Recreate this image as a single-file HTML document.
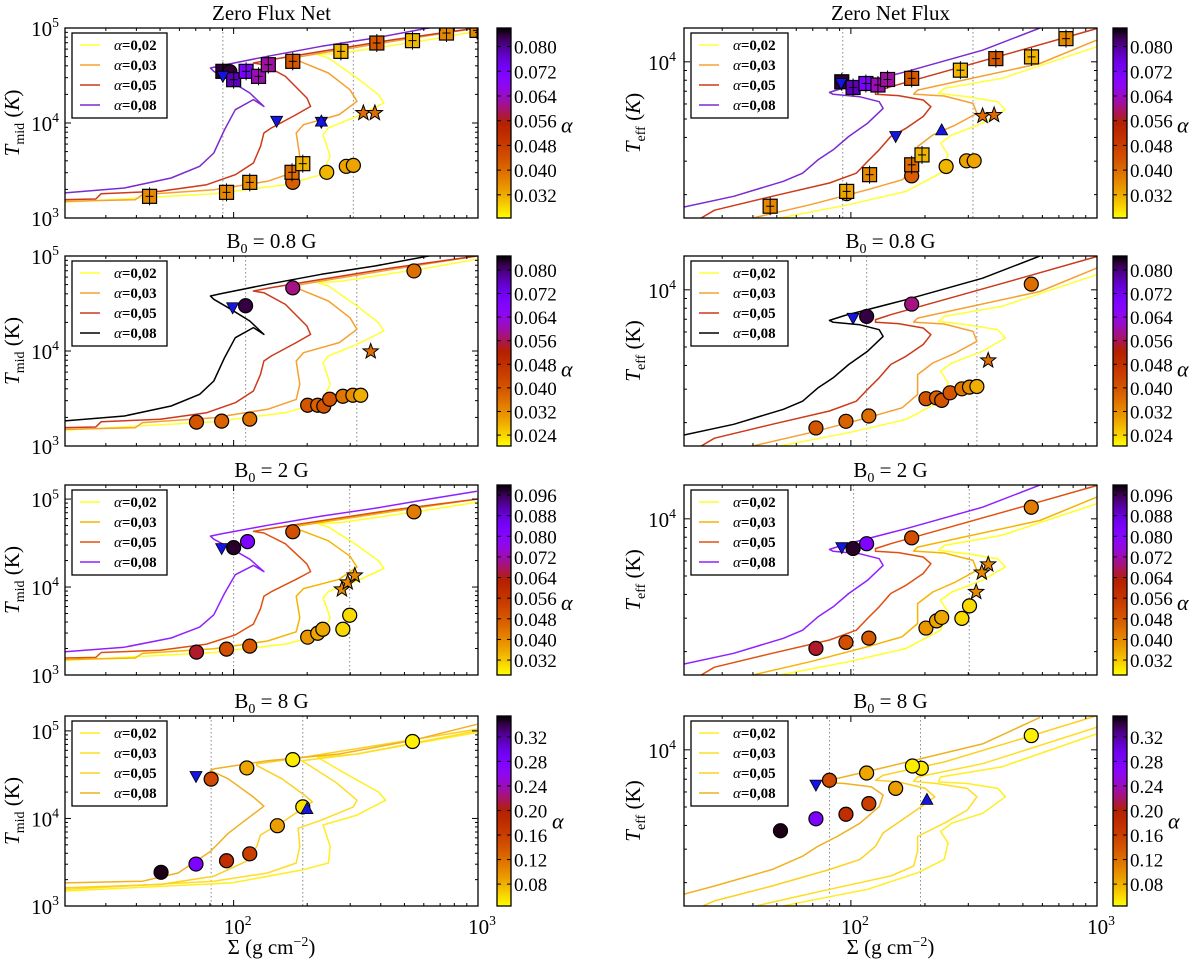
<!DOCTYPE html>
<html><head><meta charset="utf-8"><style>
html,body{margin:0;padding:0;background:#fff;}
svg{display:block;font-family:"Liberation Serif",serif;}
</style></head><body>
<svg id="fig" width="1200" height="963" viewBox="0 0 1200 963" xmlns="http://www.w3.org/2000/svg"></svg>
<script>
// ---------- Curve data: [log10 Sigma, log10 T] ----------
const LA_08=[[1.305,3.263],[1.553,3.316],[1.744,3.421],[1.861,3.544],[1.919,3.684],[1.963,3.930],[2.007,4.140],[2.081,4.246],[2.124,4.175],[2.066,4.316],[1.978,4.456],[1.919,4.544],[1.905,4.579],[1.949,4.604],[2.139,4.702],[2.359,4.807],[2.578,4.895],[2.798,5.0],[2.996,5.09]];
const LA_05=[[1.305,3.193],[1.436,3.200],[1.458,3.256],[1.700,3.281],[1.890,3.351],[2.007,3.456],[2.081,3.579],[2.110,3.754],[2.124,3.895],[2.154,3.947],[2.256,4.088],[2.315,4.175],[2.300,4.263],[2.212,4.491],[2.124,4.614],[2.081,4.632],[2.154,4.667],[2.359,4.754],[2.652,4.877],[2.996,5.0]];
const LA_03=[[1.305,3.175],[1.597,3.193],[1.627,3.246],[1.919,3.298],[2.139,3.386],[2.256,3.491],[2.271,3.649],[2.256,3.895],[2.286,3.982],[2.432,4.088],[2.505,4.228],[2.476,4.351],[2.388,4.526],[2.271,4.649],[2.242,4.684],[2.359,4.737],[2.652,4.860],[2.996,5.0]];
const LA_02=[[1.305,3.165],[1.919,3.256],[2.212,3.351],[2.359,3.456],[2.395,3.649],[2.366,3.877],[2.388,3.947],[2.505,4.070],[2.615,4.211],[2.593,4.298],[2.505,4.474],[2.388,4.684],[2.344,4.719],[2.447,4.737],[2.798,4.877],[2.996,4.965]];
const LB_08=[[1.305,3.264],[1.627,3.283],[1.773,3.377],[1.905,3.623],[1.978,3.830],[2.066,4.019],[2.124,4.140],[2.081,4.245],[1.978,4.453],[1.905,4.547],[1.919,4.566],[2.139,4.660],[2.432,4.736],[2.725,4.887],[2.996,5.075]];
const LB_05=[[1.305,3.208],[1.700,3.245],[1.919,3.340],[2.051,3.509],[2.095,3.679],[2.110,3.811],[2.212,3.981],[2.322,4.189],[2.300,4.245],[2.198,4.453],[2.095,4.604],[2.095,4.623],[2.285,4.698],[2.578,4.830],[2.996,5.019]];
const LB_03=[[1.305,3.189],[1.919,3.283],[2.139,3.377],[2.256,3.491],[2.271,3.679],[2.264,3.887],[2.359,3.981],[2.490,4.132],[2.505,4.208],[2.417,4.415],[2.300,4.623],[2.278,4.660],[2.505,4.736],[2.996,5.0]];
const LB_02=[[1.305,3.170],[1.993,3.264],[2.285,3.415],[2.388,3.491],[2.395,3.679],[2.366,3.925],[2.505,4.038],[2.622,4.208],[2.593,4.302],[2.447,4.528],[2.344,4.698],[2.505,4.736],[2.996,4.981]];
const RA_08=[[1.322,3.236],[1.524,3.292],[1.726,3.371],[1.804,3.414],[1.866,3.484],[1.928,3.537],[1.991,3.607],[2.068,3.677],[2.131,3.755],[2.115,3.790],[2.037,3.816],[1.928,3.829],[1.913,3.839],[1.975,3.865],[2.224,3.948],[2.535,4.061],[2.768,4.178]];
const RA_05=[[1.392,3.178],[1.446,3.219],[1.680,3.292],[1.913,3.362],[2.022,3.414],[2.068,3.476],[2.115,3.537],[2.162,3.607],[2.224,3.650],[2.294,3.712],[2.325,3.764],[2.294,3.799],[2.193,3.822],[2.100,3.829],[2.100,3.843],[2.162,3.869],[2.379,3.948],[2.690,4.061],[2.998,4.175]];
const RA_03=[[1.602,3.178],[1.835,3.248],[2.068,3.327],[2.208,3.379],[2.271,3.449],[2.271,3.554],[2.333,3.615],[2.426,3.668],[2.512,3.729],[2.496,3.781],[2.379,3.820],[2.255,3.830],[2.271,3.851],[2.457,3.904],[2.768,3.991],[2.998,4.114]];
const RA_02=[[1.711,3.178],[1.991,3.248],[2.224,3.318],[2.364,3.414],[2.395,3.510],[2.364,3.572],[2.410,3.615],[2.535,3.677],[2.628,3.747],[2.597,3.790],[2.473,3.816],[2.356,3.834],[2.379,3.860],[2.613,3.913],[2.998,4.079]];
const RB_08=[[1.322,3.240],[1.446,3.283],[1.680,3.370],[1.804,3.440],[1.866,3.492],[1.944,3.544],[2.037,3.614],[2.115,3.701],[2.131,3.762],[2.084,3.805],[1.975,3.823],[1.921,3.826],[1.944,3.849],[2.146,3.910],[2.535,4.031],[2.768,4.170]];
const RB_05=[[1.400,3.179],[1.446,3.205],[1.680,3.283],[1.913,3.370],[2.037,3.423],[2.100,3.492],[2.131,3.562],[2.208,3.631],[2.286,3.701],[2.341,3.753],[2.302,3.797],[2.193,3.831],[2.100,3.840],[2.131,3.866],[2.379,3.936],[2.690,4.057],[2.998,4.179]];
const RB_03=[[1.617,3.179],[1.913,3.266],[2.162,3.336],[2.255,3.388],[2.271,3.466],[2.271,3.544],[2.379,3.614],[2.473,3.683],[2.512,3.753],[2.473,3.797],[2.348,3.823],[2.255,3.835],[2.271,3.857],[2.535,3.927],[2.998,4.118]];
const RB_02=[[1.726,3.179],[2.068,3.266],[2.271,3.353],[2.379,3.423],[2.395,3.510],[2.364,3.570],[2.410,3.614],[2.535,3.666],[2.628,3.753],[2.597,3.797],[2.473,3.823],[2.356,3.831],[2.364,3.857],[2.613,3.910],[2.998,4.083]];

// ---------- Observation points: [log10 Sigma, log10 T, alpha, marker] ----------
const P_L1=[[1.656,3.228,0.036,'s'],[1.971,3.270,0.036,'s'],[2.066,3.375,0.036,'s'],[2.242,3.375,0.042,'o'],[2.239,3.481,0.040,'s'],[2.283,3.572,0.031,'s'],[2.381,3.481,0.031,'o'],[2.461,3.544,0.033,'o'],[2.490,3.554,0.033,'o'],[2.242,4.649,0.043,'s'],[2.439,4.754,0.031,'s'],[2.586,4.842,0.043,'s'],[2.732,4.867,0.031,'s'],[2.871,4.947,0.036,'s'],[2.996,4.975,0.036,'s'],[1.956,4.544,0.084,'s'],[1.985,4.540,0.084,'o'],[2.000,4.456,0.078,'s'],[2.051,4.544,0.072,'s'],[2.102,4.491,0.063,'s'],[2.142,4.614,0.062,'s'],[2.531,4.105,0.040,'*'],[2.578,4.105,0.040,'*'],[1.956,4.491,0,'v'],[2.176,4.018,0,'v'],[2.359,4.007,0,'v'],[2.359,4.020,0,'^']];
const P_L2=[[1.848,3.251,0.040,'o'],[1.951,3.262,0.038,'o'],[2.066,3.283,0.036,'o'],[2.303,3.429,0.040,'o'],[2.344,3.429,0.038,'o'],[2.369,3.420,0.040,'o'],[2.393,3.492,0.040,'o'],[2.447,3.524,0.035,'o'],[2.488,3.534,0.032,'o'],[2.520,3.534,0.028,'o'],[2.242,4.665,0.058,'o'],[2.738,4.843,0.036,'o'],[2.049,4.476,0.082,'o'],[1.996,4.455,0,'v'],[2.561,3.995,0.036,'*']];
const P_L3=[[1.848,3.260,0.065,'o'],[1.971,3.294,0.050,'o'],[2.066,3.328,0.048,'o'],[2.303,3.430,0.038,'o'],[2.344,3.475,0.036,'o'],[2.365,3.520,0.036,'o'],[2.447,3.520,0.030,'o'],[2.475,3.679,0.030,'o'],[2.242,4.629,0.050,'o'],[2.738,4.855,0.042,'o'],[2.057,4.516,0.082,'o'],[2.000,4.448,0.098,'o'],[1.951,4.437,0,'v'],[2.443,3.973,0.040,'*'],[2.467,4.052,0.040,'*'],[2.496,4.131,0.040,'*']];
const P_L4=[[1.703,3.385,0.350,'o'],[1.846,3.479,0.280,'o'],[1.971,3.517,0.180,'o'],[2.066,3.596,0.160,'o'],[2.179,3.917,0.090,'o'],[2.283,4.132,0.055,'o'],[2.242,4.672,0.052,'o'],[2.054,4.577,0.085,'o'],[1.908,4.449,0.150,'o'],[2.732,4.879,0.050,'o'],[1.846,4.479,0,'v'],[2.300,4.113,0,'^']];
const P_R1=[[1.672,3.240,0.036,'s'],[1.983,3.306,0.036,'o'],[1.983,3.318,0.033,'s'],[2.076,3.406,0.036,'s'],[2.247,3.400,0.042,'o'],[2.247,3.458,0.040,'s'],[2.289,3.510,0.031,'s'],[2.387,3.449,0.031,'o'],[2.470,3.479,0.033,'o'],[2.501,3.479,0.033,'o'],[2.247,3.913,0.043,'s'],[2.445,3.956,0.031,'s'],[2.589,4.017,0.043,'s'],[2.734,4.026,0.031,'s'],[2.874,4.122,0.036,'s'],[1.963,3.895,0.084,'s'],[2.009,3.865,0.078,'s'],[2.061,3.886,0.072,'s'],[2.110,3.878,0.063,'s'],[2.149,3.907,0.062,'s'],[2.535,3.715,0.040,'*'],[2.582,3.720,0.040,'*'],[1.960,3.886,0,'v'],[2.182,3.607,0,'v'],[2.369,3.642,0,'^']];
const P_R2=[[1.858,3.273,0.040,'o'],[1.980,3.308,0.038,'o'],[2.073,3.336,0.036,'o'],[2.305,3.427,0.040,'o'],[2.348,3.431,0.038,'o'],[2.369,3.418,0.040,'o'],[2.403,3.458,0.040,'o'],[2.451,3.479,0.035,'o'],[2.482,3.488,0.032,'o'],[2.512,3.491,0.028,'o'],[2.247,3.925,0.058,'o'],[2.733,4.030,0.036,'o'],[2.064,3.860,0.082,'o'],[2.009,3.850,0,'v'],[2.558,3.628,0.036,'*']];
const P_R3=[[1.858,3.318,0.065,'o'],[1.980,3.350,0.050,'o'],[2.073,3.372,0.048,'o'],[2.305,3.425,0.038,'o'],[2.348,3.463,0.036,'o'],[2.369,3.481,0.036,'o'],[2.451,3.476,0.030,'o'],[2.482,3.542,0.030,'o'],[2.247,3.900,0.050,'o'],[2.733,4.061,0.042,'o'],[2.064,3.869,0.082,'o'],[2.009,3.844,0.098,'o'],[1.963,3.848,0,'v'],[2.558,3.760,0.040,'*'],[2.532,3.717,0.040,'*'],[2.509,3.615,0.040,'*']];
const P_R4=[[1.714,3.574,0.350,'o'],[1.858,3.637,0.280,'o'],[1.980,3.661,0.180,'o'],[2.073,3.717,0.160,'o'],[2.182,3.797,0.090,'o'],[2.286,3.903,0.055,'o'],[2.250,3.915,0.052,'o'],[2.064,3.878,0.085,'o'],[1.913,3.840,0.150,'o'],[2.733,4.075,0.050,'o'],[1.858,3.814,0,'v'],[2.309,3.739,0,'^']];

// ---------- Tick / label arrays ----------
const cbTicks1=[0.032,0.040,0.048,0.056,0.064,0.072,0.080];
const cbTicks2=[0.024,0.032,0.040,0.048,0.056,0.064,0.072,0.080];
const cbTicks3=[0.032,0.040,0.048,0.056,0.064,0.072,0.080,0.088,0.096];
const cbTicks4=[0.08,0.12,0.16,0.20,0.24,0.28,0.32];
const legendLabels=['α=0,02','α=0,03','α=0,05','α=0,08'];
const titles=['Zero Flux Net','Zero Net Flux','B0 = 0.8 G','B0 = 0.8 G','B0 = 2 G','B0 = 2 G','B0 = 8 G','B0 = 8 G'];

const NS='http://www.w3.org/2000/svg';
const svg=document.getElementById('fig');
function mk(tag,attrs,parent){const e=document.createElementNS(NS,tag);for(const k in attrs)e.setAttribute(k,attrs[k]);(parent||svg).appendChild(e);return e;}

function cmap(a,lo,hi){ // gnuplot_r
  let t=(a-lo)/(hi-lo);t=Math.max(0,Math.min(1,t));const x=1-t;
  const r=Math.sqrt(x),g=x*x*x,b=Math.max(0,Math.sin(2*Math.PI*x));
  return 'rgb('+Math.round(255*r)+','+Math.round(255*g)+','+Math.round(255*b)+')';
}

const colsX=[[65,478,1.31,3.0],[684,1097,1.322,3.0]];
const rowsY=[28,256,485,716];
const H=190;
const rowCfg=[
 {leftMax:5,cb:[0.0245,0.086],ticks:cbTicks1,alab:0.056,cols:[['#ffff33','#f5a030','#cc3a1a','#7a2ad0'],['#ffff33','#f5a030','#cc3a1a','#7a2ad0']],L:[LA_02,LA_03,LA_05,LA_08],R:[RA_02,RA_03,RA_05,RA_08],PL:P_L1,PR:P_R1,vL:[1.956,2.490],vR:[1.967,2.496],ital:true},
 {leftMax:5,cb:[0.0203,0.0847],ticks:cbTicks2,alab:0.048,cols:[['#ffff33','#f5a030','#cc3a1a','#000000'],['#ffff33','#f5a030','#cc3a1a','#000000']],L:[LA_02,LA_03,LA_05,LA_08],R:[RA_02,RA_03,RA_05,RA_08],PL:P_L2,PR:P_R2,vL:[2.049,2.504],vR:[2.064,2.512]},
 {leftMax:5.16,cb:[0.0262,0.0999],ticks:cbTicks3,alab:0.056,cols:[['#ffff22','#f5b400','#e05010','#9020ff'],['#ffff22','#f5b400','#e05010','#9020ff']],L:[LA_02,LA_03,LA_05,LA_08],R:[RA_02,RA_03,RA_05,RA_08],PL:P_L3,PR:P_R3,vL:[2.0,2.475],vR:[2.011,2.481]},
 {leftMax:5.17,cb:[0.0443,0.354],ticks:cbTicks4,alab:0.19,cols:[['#ffee22','#ffdd22','#fcd020','#f0b020'],['#ffee22','#ffdd22','#fcd020','#f0b020']],L:[LB_02,LB_03,LB_05,LB_08],R:[RB_02,RB_03,RB_05,RB_08],PL:P_L4,PR:P_R4,vL:[1.908,2.283],vR:[1.913,2.283]}
];

const defs=mk('defs',{});
const grad=mk('linearGradient',{id:'cbg',x1:0,y1:1,x2:0,y2:0},defs);
for(let i=0;i<=20;i++){mk('stop',{offset:(i/20),'stop-color':cmap(i/20,0,1)},grad);}

function supText(parent,x,y,base,exp,anchor,size,name){
  const t=mk('text',{x:x,y:y,'text-anchor':anchor,'font-size':size,fill:'#000'},parent);
  
  
  t.appendChild(document.createTextNode(base));
  const s=mk('tspan',{dy:-size*0.42,'font-size':size*0.65},t);s.textContent=exp;
  return t;
}

rowCfg.forEach((rc,ri)=>{
  const y0=rowsY[ri],y1=y0+H;
  [0,1].forEach(ci=>{
    const [x0,x1,xl,xh]=colsX[ci];
    const ylo=ci===0?3:3.178, yhi=ci===0?rc.leftMax:4.178;
    const sx=v=>x0+(v-xl)/(xh-xl)*(x1-x0);
    const sy=v=>y1-(v-ylo)/(yhi-ylo)*H;
    const g=mk('g',{});
    
    
    const clipId='clip'+ri+ci;
    const cp=mk('clipPath',{id:clipId},defs);mk('rect',{x:x0,y:y0,width:x1-x0,height:H},cp);
    const tt=mk('text',{x:(x0+x1)/2,y:y0-8,'text-anchor':'middle','font-size':21},g);
    
    
    const ttl=titles[ri*2+ci];
    if(ttl.startsWith('B0')){tt.appendChild(document.createTextNode('B'));const s=mk('tspan',{dy:5,'font-size':14},tt);s.textContent='0';const r=mk('tspan',{dy:-5},tt);r.textContent=ttl.slice(2);}
    else tt.textContent=ttl;
    (ci?rc.vR:rc.vL).forEach(v=>{const l=mk('line',{x1:sx(v),x2:sx(v),y1:y0,y2:y1,stroke:'#888','stroke-dasharray':'1.5,2.5','stroke-width':1},g);
      
      });
    const cg=mk('g',{'clip-path':'url(#'+clipId+')'},g);
    (ci?rc.R:rc.L).forEach((c,k)=>{
      const p=mk('polyline',{points:c.map(d=>sx(d[0]).toFixed(1)+','+sy(d[1]).toFixed(1)).join(' '),fill:'none',stroke:rc.cols[ci][k],'stroke-width':1.5,'stroke-linejoin':'round'},cg);
      
      
    });
    (ci?rc.PR:rc.PL).forEach(d=>{
      const px=sx(d[0]),py=sy(d[1]);let e;
      const col=cmap(d[2],rc.cb[0],rc.cb[1]);
      if(d[3]==='o'){e=mk('circle',{cx:px,cy:py,r:7,fill:col,stroke:'#000','stroke-width':1.2},cg);}
      else if(d[3]==='s'){e=mk('rect',{x:px-7,y:py-7,width:14,height:14,fill:col,stroke:'#000','stroke-width':1.2},cg);
        mk('line',{x1:px,x2:px,y1:py-9,y2:py+9,stroke:'#000','stroke-width':1},cg);mk('line',{x1:px-4,x2:px+4,y1:py,y2:py,stroke:'#000','stroke-width':1},cg);}
      else if(d[3]==='*'){const pts=[];for(let i=0;i<10;i++){const r=i%2?3.3:8,a=-Math.PI/2+i*Math.PI/5;pts.push((px+r*Math.cos(a)).toFixed(1)+','+(py+r*Math.sin(a)).toFixed(1));}
        e=mk('polygon',{points:pts.join(' '),fill:col,stroke:'#000','stroke-width':1},cg);}
      else if(d[3]==='v'){e=mk('polygon',{points:(px-6)+','+(py-5)+' '+(px+6)+','+(py-5)+' '+px+','+(py+6),fill:'#1515e0',stroke:'#000','stroke-width':0.8},cg);}
      else {e=mk('polygon',{points:(px-6)+','+(py+5)+' '+(px+6)+','+(py+5)+' '+px+','+(py-6),fill:'#1515e0',stroke:'#000','stroke-width':0.8},cg);}
      if(e){
        }
    });
    const fr=mk('rect',{x:x0,y:y0,width:x1-x0,height:H,fill:'none',stroke:'#000','stroke-width':1.3},g);
    
    
    for(let dec=1;dec<=2;dec++)for(let m=1;m<=9;m++){const v=dec+Math.log10(m);if(v<xl||v>xh)continue;const X=sx(v),L=m===1?6:3;
      mk('line',{x1:X,x2:X,y1:y1,y2:y1-L,stroke:'#000'},g);mk('line',{x1:X,x2:X,y1:y0,y2:y0+L,stroke:'#000'},g);}
    for(let dec=3;dec<=5;dec++)for(let m=1;m<=9;m++){const v=dec+Math.log10(m);if(v<ylo||v>yhi)continue;const Y=sy(v),L=m===1?6:3;
      mk('line',{x1:x0,x2:x0+L,y1:Y,y2:Y,stroke:'#000'},g);mk('line',{x1:x1,x2:x1-L,y1:Y,y2:Y,stroke:'#000'},g);}
    if(ci===0){[3,4,5].forEach(v=>supText(g,x0-6,sy(v)+8,'10',String(v),'end',21,'y-tick-label'));}
    else supText(g,x0-8,sy(4)+8,'10','4','end',21,'y-tick-label');
    if(ri===3){[2,3].forEach(v=>supText(g,sx(v)+4,y1+28,'10',String(v),'middle',21,'x-tick-label'));
      const xt=mk('text',{x:(x0+x1)/2,y:y1+48,'text-anchor':'middle','font-size':21},g);
      
      
      xt.appendChild(document.createTextNode('Σ (g cm'));const s=mk('tspan',{dy:-8,'font-size':14},xt);s.textContent='−2';const r=mk('tspan',{dy:8},xt);r.textContent=')';}
    const yt=mk('text',{transform:'translate('+(x0-(ci?44:46))+','+(y0+H/2)+') rotate(-90)','text-anchor':'middle','font-size':21},g);
    
    
    const ti=mk('tspan',{'font-style':'italic'},yt);ti.textContent='T';
    const sb=mk('tspan',{dy:5,'font-size':14},yt);sb.textContent=ci?'eff':'mid';
    const rest=mk('tspan',{dy:-5},yt);
    if(rc.ital){rest.textContent=' (';const k=mk('tspan',{'font-style':'italic'},yt);k.textContent='K';const e2=mk('tspan',{},yt);e2.textContent=')';}
    else rest.textContent=' (K)';
    const lg=mk('g',{},g);
    
    
    const lx=x0+7,ly=y0+5;
    mk('rect',{x:lx,y:ly,width:ci?97:95,height:85,fill:'#fff',stroke:'#000','stroke-width':1.3},lg);
    legendLabels.forEach((lab,k)=>{const yy=ly+12+k*20;
      const ln=mk('line',{x1:lx+8,x2:lx+28,y1:yy,y2:yy,stroke:rc.cols[ci][k],'stroke-width':1.5},lg);
      
      
      const tx=mk('text',{x:lx+42,y:yy+5,'font-size':15},lg);
      
      
      const a=mk('tspan',{'font-style':'italic'},tx);a.textContent='α';const b=mk('tspan',{'font-weight':'bold'},tx);b.textContent=lab.slice(1);
    });
    const cbx=ci?1113:497,cbw=14;
    const cb=mk('rect',{x:cbx,y:y0,width:cbw,height:H,fill:'url(#cbg)',stroke:'#000','stroke-width':1.3},g);
    
    
    const cy=v=>y1-(v-rc.cb[0])/(rc.cb[1]-rc.cb[0])*H;
    rc.ticks.forEach(v=>{const Y=cy(v);mk('line',{x1:cbx,x2:cbx+4,y1:Y,y2:Y,stroke:'#000'},g);mk('line',{x1:cbx+cbw,x2:cbx+cbw-4,y1:Y,y2:Y,stroke:'#000'},g);
      const t=mk('text',{x:cbx+cbw+3,y:Y+7,'font-size':19},g);
      
      
      t.textContent=ri===3?v.toFixed(2):v.toFixed(3);});
    const al=mk('text',{x:cbx+cbw+(ri===3?41:50),y:cy(rc.alab)+12,'font-size':22,'font-style':'italic'},g);
    
    
    al.textContent='α';
  });
});
</script>
</body></html>
